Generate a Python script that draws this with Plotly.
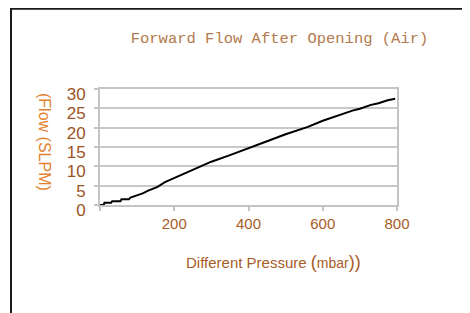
import plotly.graph_objects as go

pressure = [0, 10, 12, 30, 33, 55, 58, 78, 82, 95, 105, 115, 130, 145, 155, 175, 200, 250, 300, 350, 400, 450, 500, 530, 560, 600, 640, 660, 680, 700, 730, 750, 775, 795]
flow = [0, 0, 0.6, 0.6, 1.0, 1.0, 1.5, 1.5, 1.9, 2.3, 2.6, 3.0, 3.7, 4.2, 4.7, 5.9, 7.0, 9.2, 11.2, 12.9, 14.6, 16.5, 18.3, 19.3, 20.2, 21.8, 23.2, 23.7, 24.4, 24.9, 25.9, 26.3, 27.1, 27.5]

x_ticks = [0, 200, 400, 600, 800]
x_ticktext = ["", "200", "400", "600", "800"]
y_ticks = [0, 5, 10, 15, 20, 25, 30]

title_text = "Forward Flow After Opening (Air)"
x_title = "Different Pressure <span style='font-size:18px'>(</span><span style='font-size:14px'>mbar</span><span style='font-size:18px'>))</span>"
y_title = "(Flow (SLPM)"

# page body adds an 8px offset; compensate
OFF = 8
W, H = 470 - OFF, 313 - OFF
L, T = 100 - OFF, 89 - OFF
R = W - (397 - OFF)
B = H - (205 - OFF)

fig = go.Figure()
fig.add_trace(go.Scatter(x=pressure, y=flow, mode="lines",
                         line=dict(color="black", width=2), showlegend=False,
                         hoverinfo="skip"))

fig.update_layout(
    width=W, height=H,
    margin=dict(l=L, r=R, t=T, b=B),
    paper_bgcolor="white", plot_bgcolor="white",
    title=dict(text=title_text, x=(279.5 - OFF) / W, y=1 - (38 - OFF) / H,
               xanchor="center", yanchor="middle",
               font=dict(family="Liberation Mono", size=15.5, color="#b47a4e")),
    xaxis=dict(range=[0, 800], tickvals=x_ticks, ticktext=x_ticktext,
               showgrid=False, zeroline=False,
               showline=True, linecolor="#c4c4c4", linewidth=2, mirror=True,
               ticks="outside", ticklen=4, tickcolor="#c4c4c4", tickwidth=1.5,
               tickfont=dict(family="Liberation Sans", size=15, color="#a85c28")),
    yaxis=dict(range=[0, 30], tickvals=y_ticks,
               showgrid=True, gridcolor="#c8c8c8", gridwidth=1.5, zeroline=False,
               showline=True, linecolor="#c4c4c4", linewidth=2, mirror=True,
               ticks="outside", ticklen=4, tickcolor="#c4c4c4", tickwidth=1.5,
               ticklabelstandoff=5, ticklabelshift=5,
               tickfont=dict(family="Liberation Sans", size=17, color="#9c5426")),
)

fig.add_annotation(text=x_title, xref="paper", yref="paper",
                   x=(273 - 100) / 297, y=(205 - 262) / 116, showarrow=False,
                   xanchor="center", yanchor="middle",
                   font=dict(family="Liberation Sans", size=15, color="#a85c28"))
fig.add_annotation(text=y_title, xref="paper", yref="paper",
                   x=(45 - 100) / 297, y=(205 - 142) / 116, showarrow=False,
                   textangle=90, xanchor="center", yanchor="middle",
                   font=dict(family="Liberation Sans", size=16, color="#e3822e"))

# outer frame extending beyond the canvas
fx = (11 - 100) / 297
fy = (205 - (OFF + 0.75)) / 116
fig.add_shape(type="line", xref="paper", yref="paper",
              x0=fx, x1=fx, y0=fy + 0.02, y1=-3, line=dict(color="#1a1a1a", width=2))
fig.add_shape(type="line", xref="paper", yref="paper",
              x0=fx, x1=3, y0=fy, y1=fy, line=dict(color="#1a1a1a", width=2))

fig.write_html("out.html")
